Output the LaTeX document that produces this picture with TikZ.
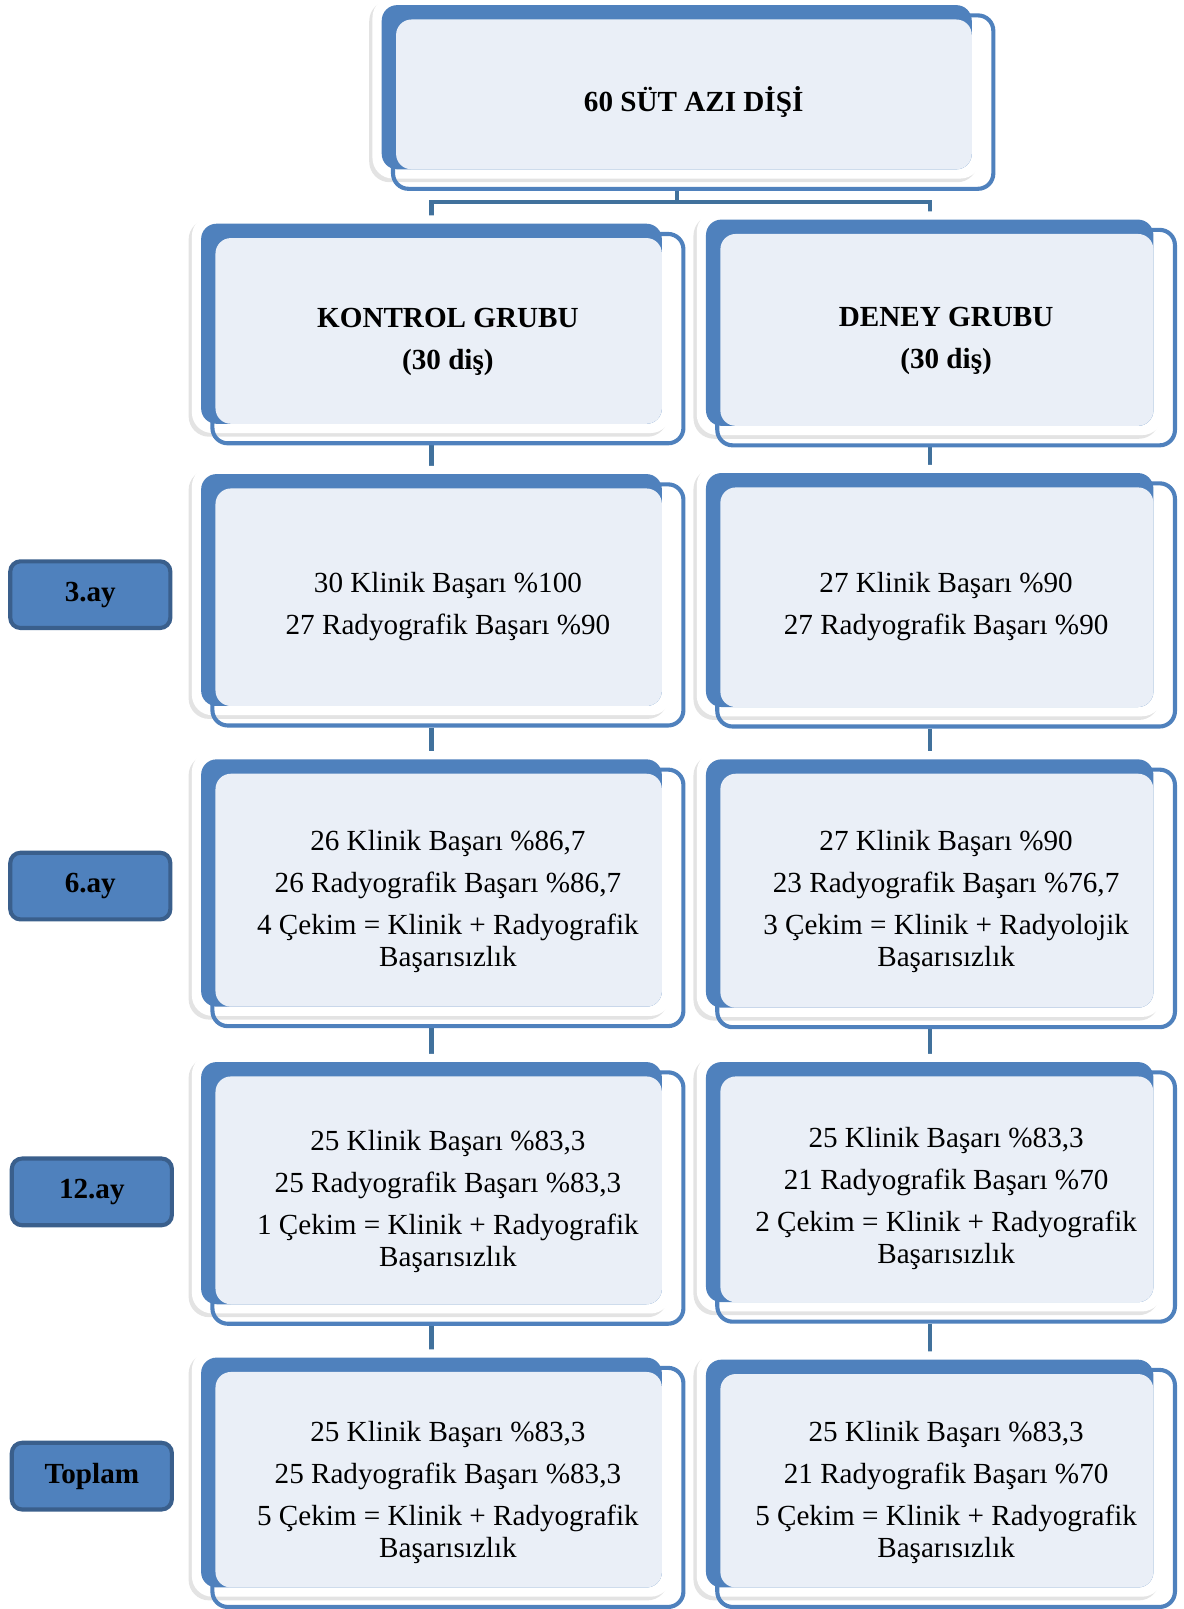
\documentclass[tikz,border=0pt]{standalone}
\usepackage{fontspec}
\setmainfont{Liberation Serif}
\usetikzlibrary{fit,shadows,calc}
\definecolor{accent}{HTML}{4F81BD}
\definecolor{lightfill}{HTML}{EAEFF7}
\definecolor{darkedge}{HTML}{3A5F8C}
\definecolor{linkcol}{HTML}{41719C}
\pgfdeclarelayer{background}
\pgfsetlayers{background,main}
\tikzset{
  whitebg/.style={fill=white, rounded corners=10pt, drop shadow={shadow xshift=-1.6pt, shadow yshift=-1.8pt, opacity=0.22}},
  solidbg/.style={fill=accent, rounded corners=7.5pt, inner sep=0pt, draw=none},
  lightbg/.style={fill=lightfill, rounded corners=7.5pt},
  outlinebox/.style={draw=accent, line width=2pt, rounded corners=7.5pt, inner sep=0pt},
  txt/.style={align=center, font=\fontsize{14.2}{20.5}\selectfont, inner sep=0pt},
  hdr/.style={align=center, font=\fontsize{14.2}{20.5}\selectfont\bfseries, inner sep=0pt},
  sidelabel/.style={fill=accent, draw=darkedge, line width=2pt, rounded corners=5pt, font=\fontsize{14.2}{17}\selectfont\bfseries, minimum width=78pt, minimum height=32.5pt, inner sep=0pt},
  link/.style={draw=linkcol, line width=2pt},
}
\newcommand{\groupbox}[5]{%
  \path[whitebg] ({#2-9},{#3-8}) rectangle ({#4+9},{#5+9});
  \node[solidbg, fit={(#2,#3)(#4,#5)}] (#1s) {};
  \path[lightbg] ({#2+14},{#3+14}) rectangle (#4,#5);
  \node[outlinebox, fit={({#2+11},{#3+10})({#4+21},{#5+19})}] (#1) {};
}
\begin{document}
\begin{tikzpicture}[x=0.5pt,y=-0.5pt]
\useasboundingbox (0,0) rectangle (1153,1568);
\groupbox{t}{372}{5}{947}{165}
\groupbox{k0}{196}{218}{645}{413}
\groupbox{d0}{688}{214}{1124}{415}
\groupbox{k1}{196}{462}{645}{688}
\groupbox{d1}{688}{461}{1124}{689}
\groupbox{k2}{196}{740}{645}{981}
\groupbox{d2}{688}{740}{1124}{982}
\groupbox{k3}{196}{1035}{645}{1271}
\groupbox{d3}{688}{1035}{1124}{1269}
\groupbox{k4}{196}{1323}{645}{1547}
\groupbox{d4}{688}{1325}{1124}{1547}

\node[hdr] (tt) at (676,99) {60 SÜT AZI DİŞİ};
\node[hdr] (tk0) at (436.5,333.5) {KONTROL GRUBU\\(30 diş)};
\node[hdr] (td0) at (922,332.5) {DENEY GRUBU\\(30 diş)};
\node[txt] (tk1) at (436.5,591.5) {30 Klinik Başarı \%100\\27 Radyografik Başarı \%90};
\node[txt] (td1) at (922,591.5) {27 Klinik Başarı \%90\\27 Radyografik Başarı \%90};
\node[txt] (tk2) at (436.5,878.5) {26 Klinik Başarı \%86,7\\26 Radyografik Başarı \%86,7\\4 Çekim = Klinik + Radyografik\\[-5pt]Başarısızlık};
\node[txt] (td2) at (922,878.5) {27 Klinik Başarı \%90\\23 Radyografik Başarı \%76,7\\3 Çekim = Klinik + Radyolojik\\[-5pt]Başarısızlık};
\node[txt] (tk3) at (436.5,1170.5) {25 Klinik Başarı \%83,3\\25 Radyografik Başarı \%83,3\\1 Çekim = Klinik + Radyografik\\[-5pt]Başarısızlık};
\node[txt] (td3) at (922,1168) {25 Klinik Başarı \%83,3\\21 Radyografik Başarı \%70\\2 Çekim = Klinik + Radyografik\\[-5pt]Başarısızlık};
\node[txt] (tk4) at (436.5,1454) {25 Klinik Başarı \%83,3\\25 Radyografik Başarı \%83,3\\5 Çekim = Klinik + Radyografik\\[-5pt]Başarısızlık};
\node[txt] (td4) at (922,1454.5) {25 Klinik Başarı \%83,3\\21 Radyografik Başarı \%70\\5 Çekim = Klinik + Radyografik\\[-5pt]Başarısızlık};

\node[sidelabel] (s3) at (88,579.5) {3.ay};
\node[sidelabel] (s6) at (88,863.5) {6.ay};
\node[sidelabel] (s12) at (89.5,1161.5) {12.ay};
\node[sidelabel] (stop) at (89.5,1438.5) {Toplam};

\begin{pgfonlayer}{background}
\coordinate (split) at (660,197);
\draw[link] (ts.south |- t.south) -- (ts.south |- split) -| (k0s.north);
\draw[link] (ts.south |- split) -| (d0s.north);
\draw[link] (k0s.south |- k0.south) -- (k1s.north);
\draw[link] (k1s.south |- k1.south) -- (k2s.north);
\draw[link] (k2s.south |- k2.south) -- (k3s.north);
\draw[link] (k3s.south |- k3.south) -- (k4s.north);
\draw[link] (d0s.south |- d0.south) -- (d1s.north);
\draw[link] (d1s.south |- d1.south) -- (d2s.north);
\draw[link] (d2s.south |- d2.south) -- (d3s.north);
\draw[link] (d3s.south |- d3.south) -- (d4s.north);
\end{pgfonlayer}
\end{tikzpicture}
\end{document}
